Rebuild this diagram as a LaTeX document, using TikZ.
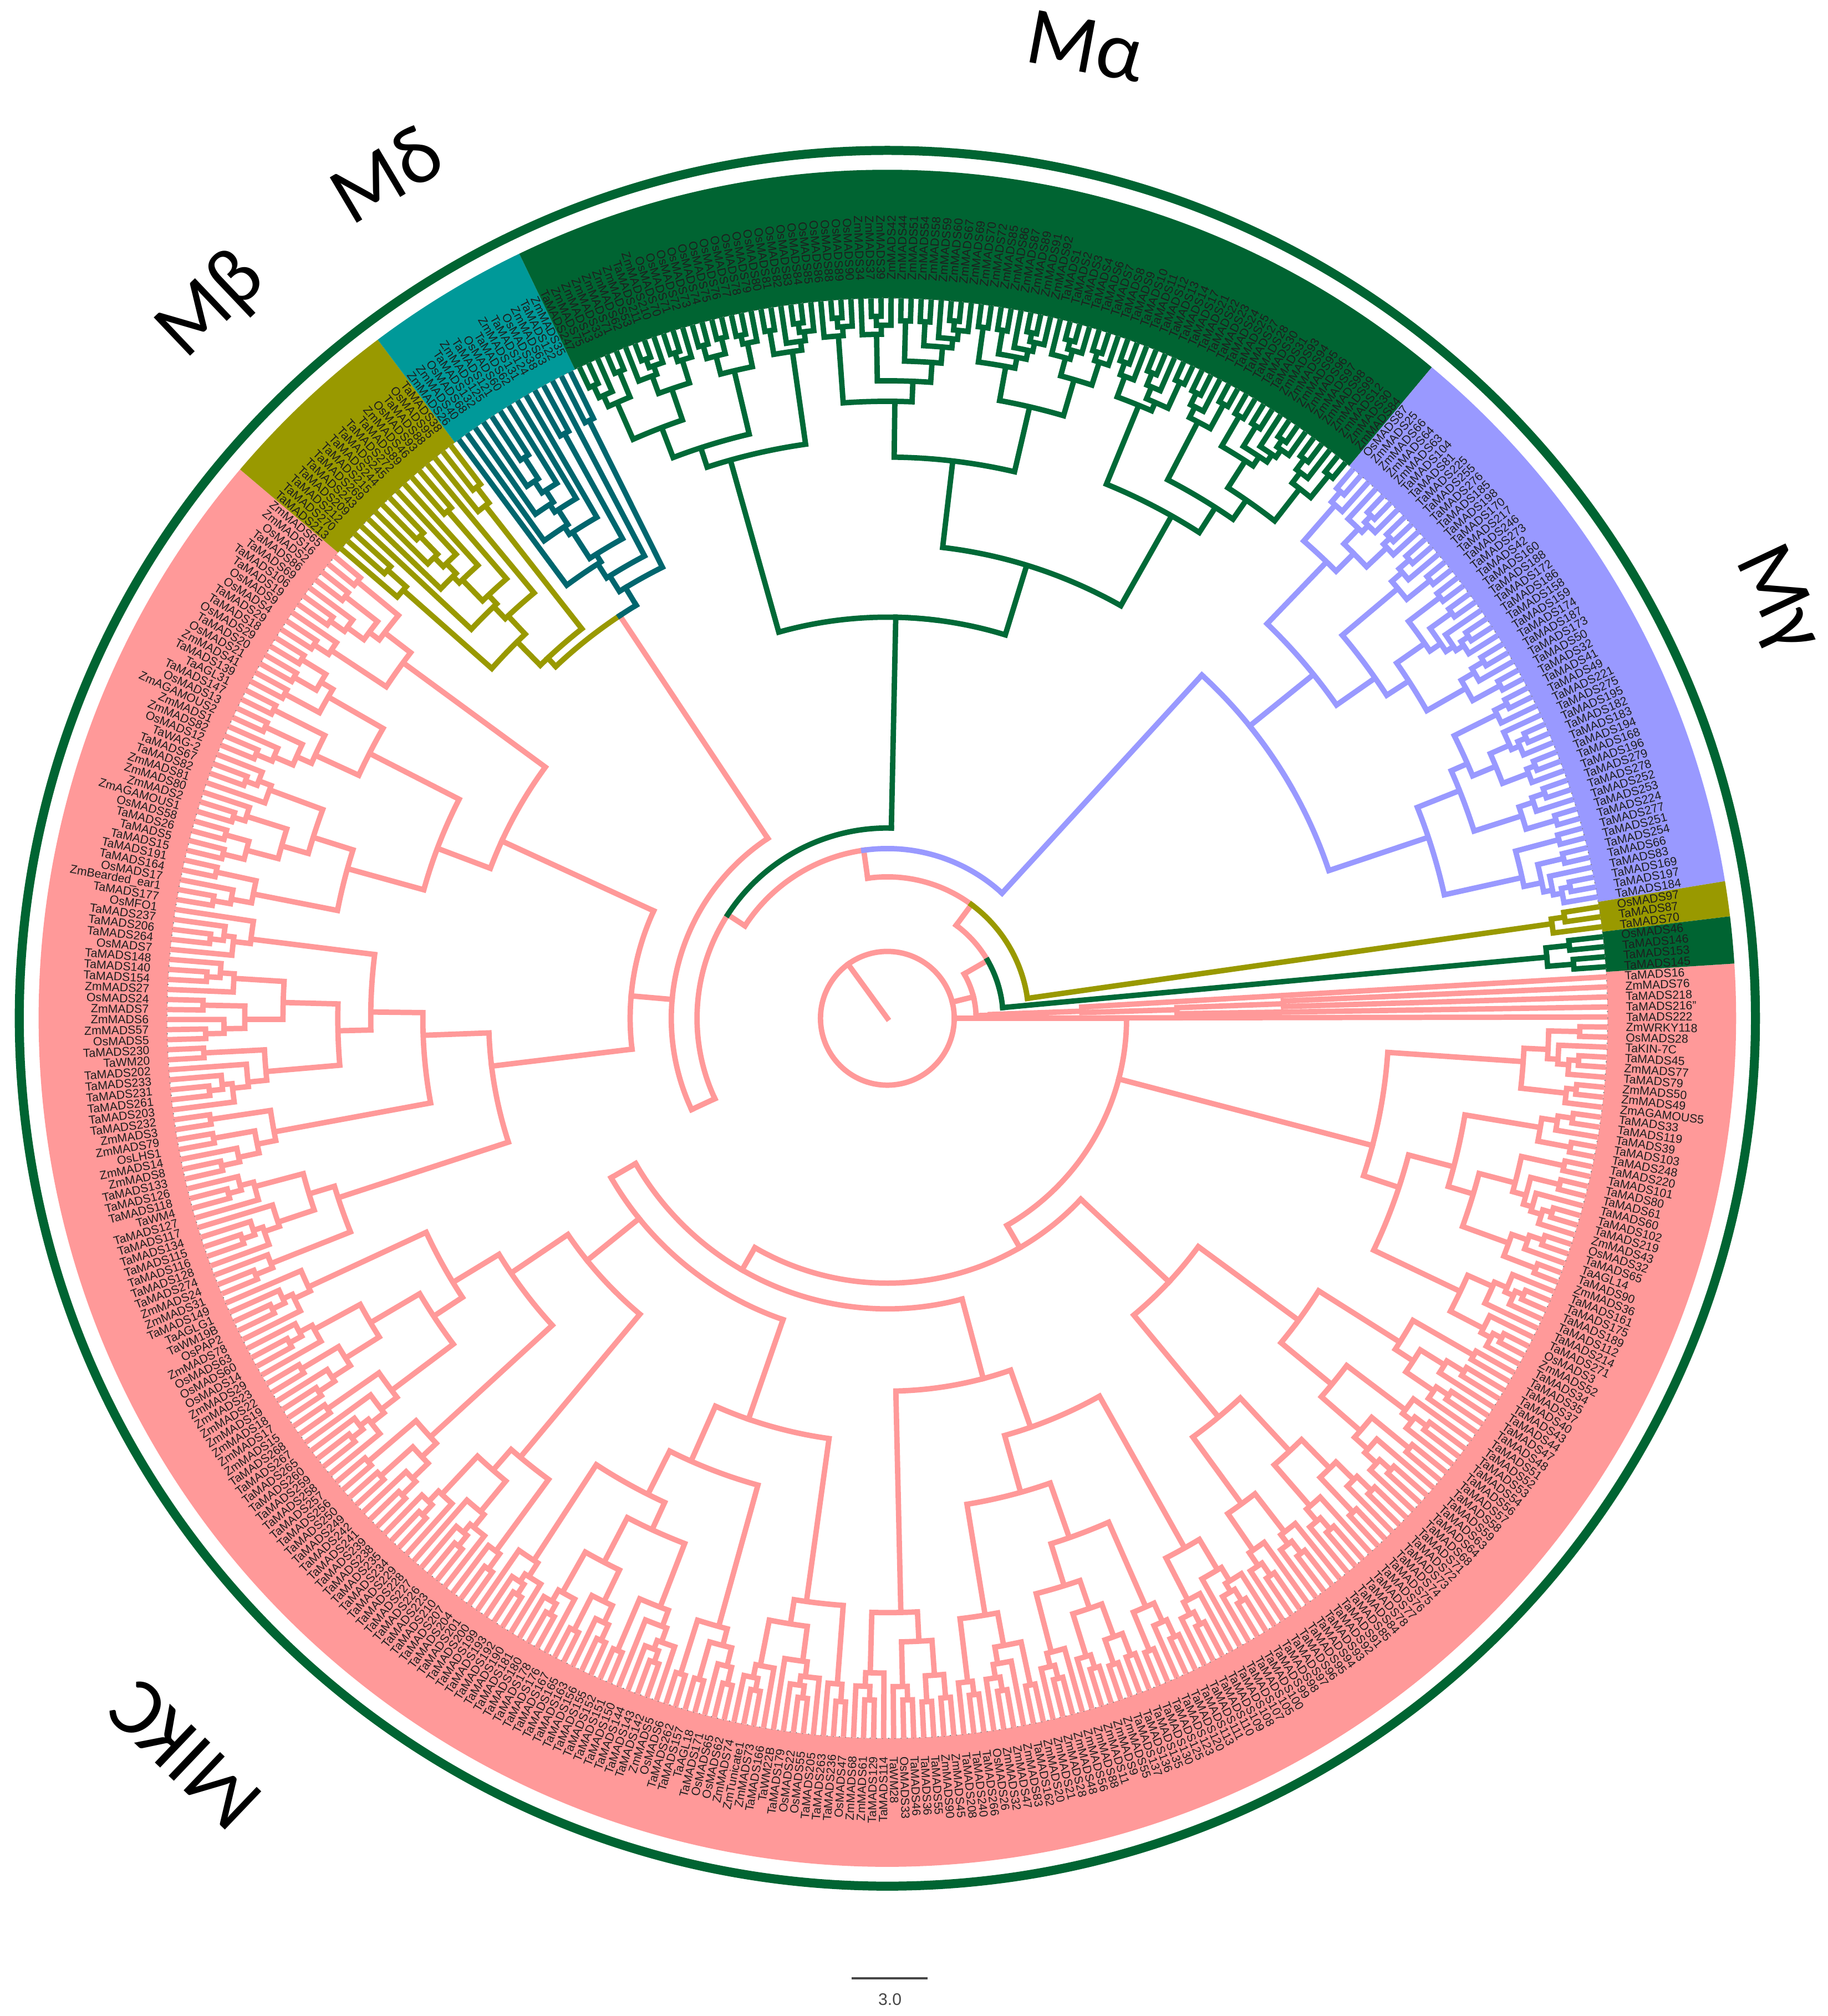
\documentclass[tikz,border=0pt]{standalone}
\usepackage{fontspec}
\setmainfont{Liberation Sans}
\newfontfamily\titlefont{Carlito}
\definecolor{pinkc}{RGB}{255,153,153}
\definecolor{lavc}{RGB}{153,153,255}
\definecolor{olivec}{RGB}{153,153,0}
\definecolor{dgreen}{RGB}{0,100,50}
\definecolor{dgbr}{RGB}{0,105,55}
\definecolor{tealband}{RGB}{0,153,153}
\definecolor{tealbr}{RGB}{0,102,110}
\definecolor{labc}{RGB}{30,30,30}
\definecolor{sbc}{RGB}{70,70,70}
\tikzset{
  br/.style={line width=2.1pt},
  pk/.style={br,draw=pinkc},
  lv/.style={br,draw=lavc},
  ol/.style={br,draw=olivec},
  dg/.style={br,draw=dgbr},
  tb/.style={br,draw=tealbr},
  lbl/.style={inner sep=0pt,text=labc,font=\fontsize{4.6}{5}\selectfont},
  ttl/.style={inner sep=0pt,font=\titlefont\fontsize{32}{36}\selectfont},
}
\def\cmode{0}
\newcommand\cladeNo[5]{}
\newcommand\clade[5]{\ifnum#1<#2\relax\expandafter\cladeA\else\expandafter\cladeNo\fi{#1}{#2}{#3}{#4}{#5}}
\newcommand\cladeA[5]{%
 \begingroup
  \pgfmathtruncatemacro\cdN{#2-#1+1}%
  \pgfmathtruncatemacro\cdH{mod(#1*7+#2*3,8)}%
  \ifnum\cmode=1
   \ifcase\cdH \def\cdP{0.12}\or\def\cdP{0.88}\or\def\cdP{0.15}\or\def\cdP{0.85}\or\def\cdP{0.2}\or\def\cdP{0.8}\or\def\cdP{0.12}\or\def\cdP{0.88}\fi
  \else
   \ifcase\cdH \def\cdP{0.5}\or\def\cdP{0.35}\or\def\cdP{0.65}\or\def\cdP{0.25}\or\def\cdP{0.75}\or\def\cdP{0.45}\or\def\cdP{0.55}\or\def\cdP{0.3}\fi
  \fi
  \pgfmathtruncatemacro\cdNL{max(1,min(\cdN-1,round(\cdN*\cdP)))}%
  \pgfmathtruncatemacro\cdNR{\cdN-\cdNL}%
  \pgfmathtruncatemacro\cdK{#1+\cdNL-1}%
  \pgfmathtruncatemacro\cdKK{\cdK+1}%
  \pgfmathsetmacro\cdAL{3.3-0.4*(#1+\cdK)}%
  \pgfmathsetmacro\cdAR{3.3-0.4*(\cdKK+#2)}%
  \ifnum\cdNL=1 \def\cdRL{560}\else
   \pgfmathsetmacro\cdRL{min(553,max(#3+7,560-(560-#4)*(\cdNL/#5)^0.7+mod(#1*13+\cdK*5,9)-4))}\fi
  \ifnum\cdNR=1 \def\cdRR{560}\else
   \pgfmathsetmacro\cdRR{min(553,max(#3+7,560-(560-#4)*(\cdNR/#5)^0.7+mod(\cdKK*11+#2*7,9)-4))}\fi
  \draw (\cdAL:\cdRL) -- (\cdAL:#3) arc[start angle=\cdAL,end angle=\cdAR,radius=#3] -- (\cdAR:\cdRR);
  \edef\cdNext{\noexpand\clade{#1}{\cdK}{\cdRL}{#4}{#5}\noexpand\clade{\cdKK}{#2}{\cdRR}{#4}{#5}}%
 \expandafter\endgroup\cdNext}
\newcommand\band[3]{\fill[#3] (#1:560) arc[start angle=#1,end angle=#2,radius=560] -- (#2:660) arc[start angle=#2,end angle=#1,radius=660] -- cycle;}
\newcommand\placelabel[2]{%
  \pgfmathsetmacro\la{3.3-0.8*#1}%
  \pgfmathtruncatemacro\side{cos(\la)>=0}%
  \ifnum\side=1
    \node[lbl,anchor=west,rotate=\la] (L#1) at (\la:574) {#2};%
  \else
    \pgfmathsetmacro\lb{\la+180}%
    \node[lbl,anchor=east,rotate=\lb] (L#1) at (\la:574) {#2};%
  \fi}
\newcommand\labelset[2]{\foreach \lab [count=\i from #1] in {#2}{\placelabel{\i}{\lab}}}
\begin{document}
\begin{tikzpicture}[x=0.5pt,y=0.5pt]
\useasboundingbox (-690,-776) rectangle (731,792);
% ---- coloured bands
\band{3.7}{-220.3}{pinkc}
\band{-220.3}{-233.1}{olivec}
\band{-233.1}{-244.3}{tealband}
\band{-244.3}{-309.9}{dgreen}
\band{-309.9}{-350.7}{lavc}
\band{-350.7}{-353.1}{olivec}
\band{-353.1}{-356.3}{dgreen}
\draw[gray,line width=0.4pt,dotted] (0,0) circle[radius=560];
% ---- backbone
\begin{scope}[pk,line cap=rect]
 \draw (0,0) circle[radius=52];
 \draw (0,0) -- (126:52);
 \draw (0:52) -- (0:186);
 \draw (14:52) -- (14:69);
 \draw (1.7:69) arc[start angle=1.7,end angle=30,radius=69];
 \draw (1.7:69) -- (1.7:80);
 \draw (30:69) -- (30:90);
 \draw (30:90) arc[start angle=30,end angle=53.5,radius=90];
 \draw (53.5:90) -- (53.5:110);
 \draw (53.5:110) arc[start angle=53.5,end angle=98,radius=110];
 \draw (98:110) -- (98:132);
 \draw (98:132) arc[start angle=98,end angle=147,radius=132];
 \draw (147:132) -- (147:148);
 \draw (147:148) arc[start angle=147,end angle=205,radius=148];
 \draw (205:148) -- (205:168);
 \draw (123.6:168) arc[start angle=123.6,end angle=205,radius=168];
 \draw (123.6:168) -- (123.6:376);
 \draw (175:168) -- (175:200);
 \draw (155.3:200) arc[start angle=155.3,end angle=186.9,radius=200];
 \draw (186.9:200) -- (186.9:310);
 \draw (155.3:200) -- (155.3:330);
 \draw (0:186) arc[start angle=0,end angle=-60,radius=186];
 \draw (-14.7:186) -- (-14.7:390);
 \draw (-60:186) -- (-60:206);
 \draw (-43.1:206) arc[start angle=-43.1,end angle=-120,radius=206];
 \draw (-43.1:206) -- (-43.1:300);
 \draw (-120:206) -- (-120:226);
 \draw (-75.1:226) arc[start angle=-75.1,end angle=-150,radius=226];
 \draw (-75.1:226) -- (-75.1:290);
 \draw (-150:226) -- (-150:248);
 \draw (-109.1:248) arc[start angle=-109.1,end angle=-150,radius=248];
 \draw (-109.1:248) -- (-109.1:330);
 \draw (-141.1:248) -- (-141.1:300);
\end{scope}
\begin{scope}[dg,line cap=rect]
 \draw (5.3:90) arc[start angle=5.3,end angle=30,radius=90];
 \draw (5.3:90) -- (5.3:515);
 \draw (88.8:148) arc[start angle=88.8,end angle=147,radius=148];
 \draw (88.8:148) -- (88.8:312);
 \draw (88.8:312) arc[start angle=88.8,end angle=82.9,radius=312];
\end{scope}
\begin{scope}[ol,line cap=rect]
 \draw (8.1:110) arc[start angle=8.1,end angle=53.5,radius=110];
 \draw (8.1:110) -- (8.1:522);
 \draw (123.6:376) arc[start angle=123.6,end angle=133.3,radius=376];
 \draw (133.3:376) -- (133.3:385);
\end{scope}
\begin{scope}[lv,line cap=rect]
 \draw (47.5:132) arc[start angle=47.5,end angle=98,radius=132];
 \draw (47.5:132) -- (47.5:362);
 \draw (47.5:362) arc[start angle=47.5,end angle=29.7,radius=362];
\end{scope}
\begin{scope}[tb,line cap=rect]
 \draw (123.6:376) arc[start angle=123.6,end angle=121.3,radius=376];
 \draw (121.3:376) -- (121.3:392);
\end{scope}
% ---- subtrees
\begin{scope}[pk]
 \clade{0}{4}{80}{80}{5}
 \clade{5}{40}{390}{390}{36}
 \clade{41}{75}{300}{300}{35}
 \clade{76}{120}{290}{290}{45}
 \clade{121}{160}{330}{330}{40}
 \clade{161}{200}{300}{300}{40}
 \clade{201}{240}{310}{310}{40}
 \clade{241}{279}{330}{330}{39}
\end{scope}
\begin{scope}[dg]
 \clade{446}{449}{515}{515}{4}
 \clade{310}{391}{312}{312}{82}
\end{scope}
\begin{scope}[ol]
 \clade{443}{445}{522}{522}{3}
\end{scope}
\begin{scope}[lv]
 \clade{392}{442}{362}{362}{51}
\end{scope}
\begin{scope}[ol]\def\cmode{1}
 \clade{280}{295}{385}{385}{16}
\end{scope}
\begin{scope}[tb]\def\cmode{1}
 \clade{296}{309}{392}{392}{14}
\end{scope}
% ---- leaf labels
\labelset{0}{TaMADS16,ZmMADS76,TaMADS218,TaMADS216",TaMADS222,ZmWRKY118,OsMADS28,TaKIN-7C,TaMADS45,ZmMADS77,TaMADS79,ZmMADS50,ZmMADS49,ZmAGAMOUS5,TaMADS33,TaMADS119,TaMADS39,TaMADS103,TaMADS248,TaMADS220,TaMADS101,TaMADS80,TaMADS61,TaMADS60,TaMADS102,TaMADS219,ZmMADS43,OsMADS32,TaMADS65,TaAGL14}
\labelset{30}{TaMADS90,ZmMADS36,TaMADS161,TaMADS175,TaMADS189,TaMADS112,TaMADS214,TaMADS271,OsMADS3,ZmMADS52,TaMADS34,TaMADS35,TaMADS37,TaMADS40,TaMADS43,TaMADS44,TaMADS47,TaMADS48,TaMADS51,TaMADS52,TaMADS53,TaMADS54,TaMADS56,TaMADS57,TaMADS58,TaMADS59,TaMADS63,TaMADS64,TaMADS68,TaMADS71,TaMADS72,TaMADS73,TaMADS74,TaMADS75,TaMADS76,TaMADS77,TaMADS78,TaMADS84,TaMADS85,TaMADS91,TaMADS92,TaMADS93,TaMADS94,TaMADS95,TaMADS96,TaMADS97,TaMADS98,TaMADS99,TaMADS100,TaMADS105,TaMADS107,TaMADS108,TaMADS109,TaMADS110,TaMADS111,TaMADS113,TaMADS120,TaMADS123,TaMADS125,TaMADS130,TaMADS135,TaMADS136,TaMADS137}
\labelset{93}{ZmMADS55,ZmMADS9,ZmMADS11,ZmMADS88,ZmMADS56,ZmMADS48,ZmMADS28,ZmMADS21,ZmMADS20,TaMADS162,ZmMADS83,ZmMADS47,ZmMADS32,OsMADS26,TaMADS266,TaMADS240,TaMADS208,ZmMADS45,ZmMADS90,TaMADS55,TaMADS36,TaMADS46,OsMADS33,TaWM28,TaMADS114,TaMADS129,ZmMADS61,ZmMADS68,OsMADS47,TaMADS236,TaMADS263,TaMADS205,OsMADS55,OsMADS22,TaMADS179,TaWM22B,TaMADS166,ZmMADS73,ZmTunicate1,ZmMADS74,OsMADS62,OsMADS65,TaMADS171,TaAGL18,TaMADS157}
\labelset{138}{TaMADS262,OsMADS6,ZmMADS5,TaMADS142,TaMADS143,TaMADS144,TaMADS150,TaMADS151,TaMADS152,TaMADS155,TaMADS156,TaMADS163,TaMADS165,TaMADS167,TaMADS176,TaMADS178,TaMADS180,TaMADS181,TaMADS190,TaMADS192,TaMADS193,TaMADS199,TaMADS200,TaMADS201,TaMADS204,TaMADS207,TaMADS210,TaMADS223,TaMADS226,TaMADS227,TaMADS228,TaMADS229,TaMADS234,TaMADS235,TaMADS238,TaMADS239,TaMADS241,TaMADS242,TaMADS249,TaMADS250,TaMADS256,TaMADS257,TaMADS258,TaMADS259,TaMADS260,TaMADS265,TaMADS267,TaMADS268,ZmMADS15,ZmMADS17,ZmMADS18,ZmMADS19,ZmMADS22,ZmMADS23,ZmMADS29}
\labelset{193}{OsMADS14,OsMADS60,OsMADS63,ZmMADS78,OsPAP2,TaWM19B,TaAGLG1,TaMADS149,ZmMADS31,ZmMADS24,TaMADS274,TaMADS128,TaMADS116,TaMADS115,TaMADS134,TaMADS117,TaMADS127,TaWM4,TaMADS118,TaMADS126,TaMADS133,ZmMADS8,ZmMADS14,OsLHS1,ZmMADS79,ZmMADS3,TaMADS232,TaMADS203,TaMADS261,TaMADS231,TaMADS233,TaMADS202,TaWM20,TaMADS230,OsMADS5,ZmMADS57,ZmMADS6,ZmMADS7,OsMADS24,ZmMADS27,TaMADS154,TaMADS140,TaMADS148,OsMADS7}
\labelset{237}{TaMADS264,TaMADS206,TaMADS237,OsMFO1,TaMADS177,ZmBearded\_ear1,OsMADS17,TaMADS164,TaMADS191,TaMADS15,TaMADS5,TaMADS26,OsMADS58,ZmAGAMOUS1,ZmMADS2,ZmMADS80,ZmMADS81,TaMADS82,TaMADS67,TaWAG-2,OsMADS12,ZmMADS82,ZmMADS1,ZmAGAMOUS2,OsMADS13,TaMADS147,TaAGL31,TaMADS139,ZmMADS41,OsMADS21,TaMADS20,OsMADS29,TaMADS18,TaMADS29,OsMADS4,OsMADS9,TaMADS19,TaMADS106,TaMADS69,TaMADS86,OsMADS2,ZmMADS16,ZmMADS65}
\labelset{280}{TaMADS213,TaMADS270,TaMADS212,TaMADS209,TaMADS243,TaMADS269,TaMADS215,TaMADS244,TaMADS245,TaMADS272,TaMADS89,ZmMADS46,OsMADS93,TaMADS88,OsMADS95,TaMADS38}
\labelset{296}{ZmMADS26,ZmMADS40,OsMADS68,TaMADS132,ZmMADS125,TaMADS121,OsMADS60,TaMADS62,ZmMADS131,TaMADS124,OsMADS38,ZmMADS63,TaMADS122,ZmMADS35}
\labelset{310}{TaMADS247,ZmMADS75,ZmMADS13,ZmMADS33,ZmMADS71,ZmMADS62,ZmMADS53,TaMADS211,ZmMADS210}
\labelset{319}{OsMADS70,OsMADS71,OsMADS72,OsMADS73,OsMADS74,OsMADS75,OsMADS76,OsMADS77,OsMADS78,OsMADS79,OsMADS80,OsMADS81,OsMADS82,OsMADS83,OsMADS84,OsMADS85,OsMADS86,OsMADS88,OsMADS89,OsMADS90,ZmMADS34,ZmMADS37,ZmMADS39,ZmMADS42,ZmMADS44,ZmMADS51,ZmMADS54,ZmMADS58,ZmMADS59,ZmMADS60,ZmMADS67,ZmMADS69,ZmMADS70,ZmMADS72,ZmMADS85,ZmMADS86,ZmMADS87,ZmMADS89,ZmMADS91,ZmMADS92,TaMADS1,TaMADS2,TaMADS3,TaMADS4,TaMADS6,TaMADS7,TaMADS8,TaMADS9,TaMADS10,TaMADS11,TaMADS12,TaMADS13,TaMADS14,TaMADS17,TaMADS21,TaMADS22,TaMADS23,TaMADS24,TaMADS25,TaMADS27,TaMADS28,TaMADS30,TaMADS31,ZmMADS93,ZmMADS94,ZmMADS95,ZmMADS96,ZmMADS97,ZmMADS98,ZmMADS99}
\labelset{389}{ZmMADS12,ZmMADS30,ZmMADS84}
\labelset{392}{OsMADS87,ZmMADS25,ZmMADS66,ZmMADS64,ZmMADS63,TaMADS104,TaMADS81,TaMADS225,TaMADS255,TaMADS276,TaMADS185,TaMADS198,TaMADS170,TaMADS217,TaMADS246,TaMADS273,TaMADS42,TaMADS160,TaMADS188,TaMADS172,TaMADS186,TaMADS158,TaMADS159,TaMADS174,TaMADS187,TaMADS173,TaMADS50,TaMADS32,TaMADS41,TaMADS49,TaMADS221,TaMADS275,TaMADS195,TaMADS182,TaMADS183,TaMADS194,TaMADS168,TaMADS196,TaMADS279,TaMADS278,TaMADS252,TaMADS253,TaMADS224,TaMADS277,TaMADS251,TaMADS254,TaMADS66,TaMADS83,TaMADS169,TaMADS197,TaMADS184}
\labelset{443}{OsMADS97,TaMADS87,TaMADS70,OsMADS46,TaMADS146,TaMADS153,TaMADS145}
% ---- outer ring
\draw[dgreen,line width=3.5pt] (0,0) circle[radius=675];
% ---- clade titles
\node[ttl,rotate=-10.5] (tMa) at (154,756) {Mα};
\node[ttl,rotate=30.7] (tMd) at (-390,657) {Mδ};
\node[ttl,rotate=43.5] (tMb) at (-525,554) {Mβ};
\node[ttl,rotate=-64.8] (tMg) at (691,325) {Mγ};
\node[ttl,rotate=136.4] (tMIKC) at (-546,-573) {MIKC};
% ---- scale bar
\coordinate (sbL) at (-27.8,-746.8);
\coordinate (sbR) at (31.1,-746.8);
\draw[sbc,line width=0.85pt] (sbL) -- (sbR);
\node[inner sep=0pt,text=sbc,font=\fontsize{6.5}{7}\selectfont] (sbT) at (2,-763) {3.0};
\end{tikzpicture}
\end{document}
